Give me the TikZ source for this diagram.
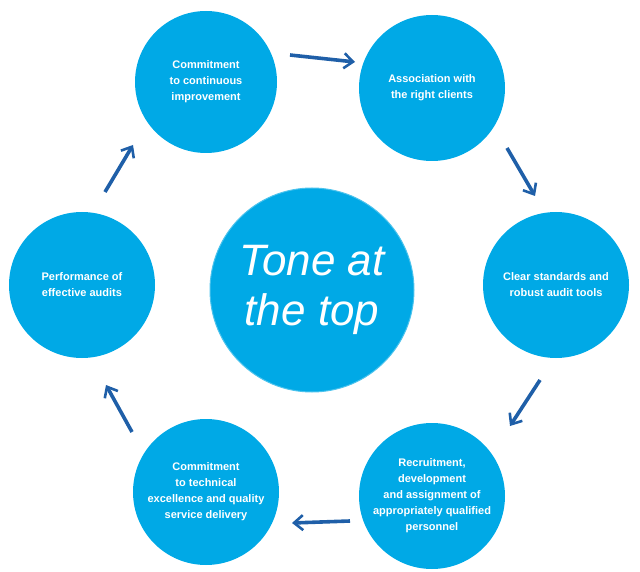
\documentclass[tikz,border=0pt]{standalone}
\usepackage{fontspec}
\setmainfont{Liberation Sans}
\usetikzlibrary{arrows.meta}
\definecolor{cb}{HTML}{00A9E6}
\definecolor{ab}{HTML}{1F5FA8}
\begin{document}
\begin{tikzpicture}[x=1pt,y=-1pt,
  circ/.style={circle,fill=cb,minimum size=#1,inner sep=0pt,text=white,font=\bfseries\fontsize{11}{16}\selectfont,align=center},
  arr/.style={draw=ab,line width=3.6pt,-{Straight Barb[length=9pt,width=15pt,line width=2.6pt]}}]
\useasboundingbox (0,0) rectangle (640,572);
\node[circ=142] (a) at (206,82) {Commitment\\to continuous\\improvement};
\node[circ=146] (b) at (432,88) {Association with\\the right clients};
\node[circ=146] (c) at (556,285) {Clear standards and\\robust audit tools};
\node[circ=146] (d) at (432,496) {Recruitment,\\development\\and assignment of\\appropriately qualified\\personnel};
\node[circ=146] (e) at (206,492) {Commitment\\to technical\\excellence and quality\\service delivery};
\node[circ=146] (f) at (82,285) {Performance of\\effective audits};
\node[circ=204,draw=cb!70!white,line width=1pt,font=\fontsize{44}{50}\itshape] (g) at (312,290) {Tone at\\the top};
\coordinate (a1) at (290,55); \coordinate (a2) at (355,62);
\coordinate (b1) at (507,148); \coordinate (b2) at (535,196);
\coordinate (c1) at (540,380); \coordinate (c2) at (510,426);
\coordinate (d1) at (350,521); \coordinate (d2) at (292,523);
\coordinate (e1) at (132,432); \coordinate (e2) at (106,385);
\coordinate (f1) at (105,192); \coordinate (f2) at (133,145);
\draw[arr] (a1) -- (a2);
\draw[arr] (b1) -- (b2);
\draw[arr] (c1) -- (c2);
\draw[arr] (d1) -- (d2);
\draw[arr] (e1) -- (e2);
\draw[arr] (f1) -- (f2);
\end{tikzpicture}
\end{document}
